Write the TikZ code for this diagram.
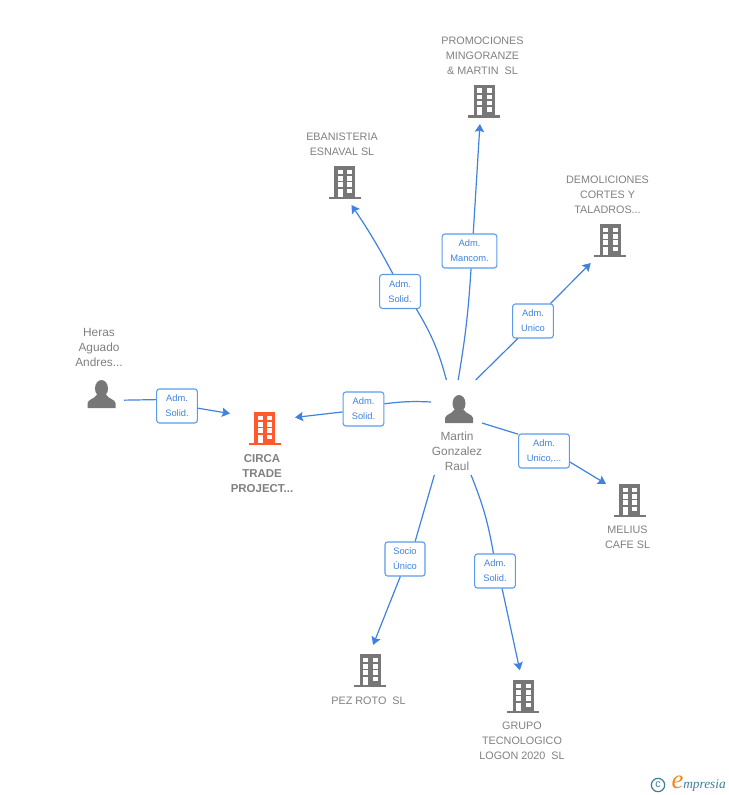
\documentclass[tikz,border=0pt]{standalone}
\usepackage{fontspec}
\setmainfont{Liberation Sans}
\newfontfamily\logofont{Liberation Serif}
\usepackage[HTML]{xcolor}
\usetikzlibrary{arrows.meta}
\definecolor{linkblue}{HTML}{3F82E0}
\definecolor{boxblue}{HTML}{5C9BEA}
\definecolor{iconGray}{HTML}{777777}
\definecolor{nameGray}{HTML}{808080}
\definecolor{mainRed}{HTML}{FF5A2B}
\definecolor{logoTeal}{HTML}{3D7F96}
\definecolor{logoOrange}{HTML}{F28A1E}
\tikzset{
  link/.style={draw=linkblue, line width=0.9pt},
  linkarrow/.style={link, -{Stealth[length=6pt,width=7pt,inset=1pt]}},
  rolebox/.style={draw=boxblue, fill=white, rounded corners=2pt, line width=0.8pt, text=linkblue,
    font=\fontsize{7}{11.25}\selectfont, align=center, inner sep=0pt, minimum height=25.5pt},
  nametext/.style={text=nameGray, font=\fontsize{8.1}{11.25}\selectfont, align=center, inner sep=0pt},
  personname/.style={nametext, font=\fontsize{8.9}{11.25}\selectfont},
  iconarea/.style={shape=rectangle, inner sep=0pt, outer sep=0pt, minimum size=34.5pt},
  building/.pic={
    \fill[pic actions] (-10.5,-16) rectangle (10.5,15);
    \fill[pic actions] (-16,14.5) rectangle (16,17);
    \foreach \r in {-12.5,-6,0}{
      \fill[white] (-7,\r) rectangle (-2,\r+4.5);
      \fill[white] (2.5,\r) rectangle (7.5,\r+4.5);
    }
    \fill[white] (-7,6.5) rectangle (-2,14.5);
    \fill[white] (2.5,6.5) rectangle (7.5,11);
  },
  person/.pic={
    \fill[pic actions] (0,-5.5) ellipse (6.5 and 8.5);
    \fill[pic actions] (-14,14) -- (-14,9) .. controls (-13,5) and (-7,5) .. (-5,1)
      -- (5,1) .. controls (7,5) and (13,5) .. (14,9) -- (14,14) -- cycle;
  }
}
\begin{document}
\begin{tikzpicture}[x=0.75pt,y=-0.75pt]
\useasboundingbox (0,0) rectangle (728,795);
% icons and their names
\node[iconarea, minimum width=48.75pt] (circa) at (262.5,428) {};
\pic[fill=mainRed] at (264.5,428) {building};
\node[nametext, font=\bfseries\fontsize{8.6}{11.25}\selectfont] (circaname) at (262,473.5) {CIRCA\\TRADE\\PROJECT...};
\node[iconarea] (heras) at (101,394) {};
\pic[fill=iconGray] at (101.5,394) {person};
\node[personname] (herasname) at (99,347.5) {Heras\\Aguado\\Andres...};
\node[iconarea, minimum width=38.25pt, minimum height=71.25pt] (martin) at (456.5,427.5) {};
\pic[fill=iconGray] at (459,409) {person};
\node[personname] (martinname) at (457,451.5) {Martin\\Gonzalez\\Raul};
\node[iconarea] (ebanisteria) at (344,182) {};
\pic[fill=iconGray] at (344.5,182) {building};
\node[nametext] (ebanisterianame) at (342,144) {EBANISTERIA\\ESNAVAL SL};
\node[iconarea] (promociones) at (484,101) {};
\pic[fill=iconGray] at (484,101) {building};
\node[nametext] (promocionesname) at (482.5,56) {PROMOCIONES\\MINGORANZE\\\& MARTIN\ \ SL};
\node[iconarea] (demoliciones) at (610,240) {};
\pic[fill=iconGray] at (610,240) {building};
\node[nametext] (demolicionesname) at (607.5,195) {DEMOLICIONES\\CORTES Y\\TALADROS...};
\node[iconarea] (melius) at (629,500) {};
\pic[fill=iconGray] at (629.5,500) {building};
\node[nametext] (meliusname) at (627.5,537) {MELIUS\\CAFE SL};
\node[iconarea, minimum size=37.5pt] (pezroto) at (370,670) {};
\pic[fill=iconGray] at (370,670) {building};
\node[nametext] (pezrotoname) at (368.5,700.5) {PEZ ROTO\ \ SL};
\node[iconarea, minimum size=38.5pt] (grupo) at (523,696) {};
\pic[fill=iconGray] at (523,696) {building};
\node[nametext] (gruponame) at (522,740.5) {GRUPO\\TECNOLOGICO\\LOGON 2020\ \ SL};
% role boxes
\node[rolebox, minimum width=30.5pt] (herasrole) at (177,406) {Adm.\\Solid.};
\node[rolebox, minimum width=30.5pt] (circarole) at (363.5,409) {Adm.\\Solid.};
\node[rolebox, minimum width=30.5pt] (ebanisteriarole) at (400,291.5) {Adm.\\Solid.};
\node[rolebox, minimum width=41pt] (promocionesrole) at (469.5,251) {Adm.\\Mancom.};
\node[rolebox, minimum width=30.5pt] (demolicionesrole) at (533,321) {Adm.\\Unico};
\node[rolebox, minimum width=38pt] (meliusrole) at (544,451) {Adm.\\Unico,...};
\node[rolebox, minimum width=30pt] (pezrotorole) at (405,559) {Socio\\Único};
\node[rolebox, minimum width=30.5pt] (gruporole) at (495,571) {Adm.\\Solid.};
% connectors
\draw[link] (heras.-15) -- (herasrole.163);
\draw[linkarrow] (herasrole.-6) -- (circa.156.7);
\draw[link] (martin.135) to[bend right=5] (circarole.14);
\draw[linkarrow] (circarole.188) -- (circa.18.7);
\draw[link] (martin.102.5) to[bend right=8] (ebanisteriarole.-47.6);
\draw[linkarrow] (ebanisteriarole.112) to[bend right=3] (ebanisteria.-72);
\draw[link] (martin.88) to[bend right=3] (promocionesrole.-85);
\draw[linkarrow] (promocionesrole.78) -- (promociones.-100);
\draw[link] (martin.68.7) -- (demolicionesrole.-131);
\draw[linkarrow] (demolicionesrole.45) -- (demoliciones.230.4);
\draw[link] (martin.10) -- (meliusrole.147);
\draw[linkarrow] (meliusrole.-23) -- (melius.145);
\draw[link] (martin.-115.3) -- (pezrotorole.60);
\draw[linkarrow] (pezrotorole.-105) -- (pezroto.83);
\draw[link] (martin.-73) to[bend left=6] (gruporole.95);
\draw[linkarrow] (gruporole.-68) -- (grupo.97);
% logo
\node[circle, draw=logoTeal, line width=0.9pt, text=logoTeal, inner sep=0pt, minimum size=10pt,
  font=\fontsize{8}{8}\selectfont] (copyright) at (658,785) {c};
\node[text=logoOrange, inner sep=0pt, anchor=base, font=\logofont\itshape\fontsize{20}{20}\selectfont] (logoe) at (677.5,788) {e};
\node[text=logoTeal, inner sep=0pt, anchor=base west, font=\logofont\itshape\fontsize{10}{10}\selectfont] (logoname) at (683,788) {mpresia};
\end{tikzpicture}
\end{document}
